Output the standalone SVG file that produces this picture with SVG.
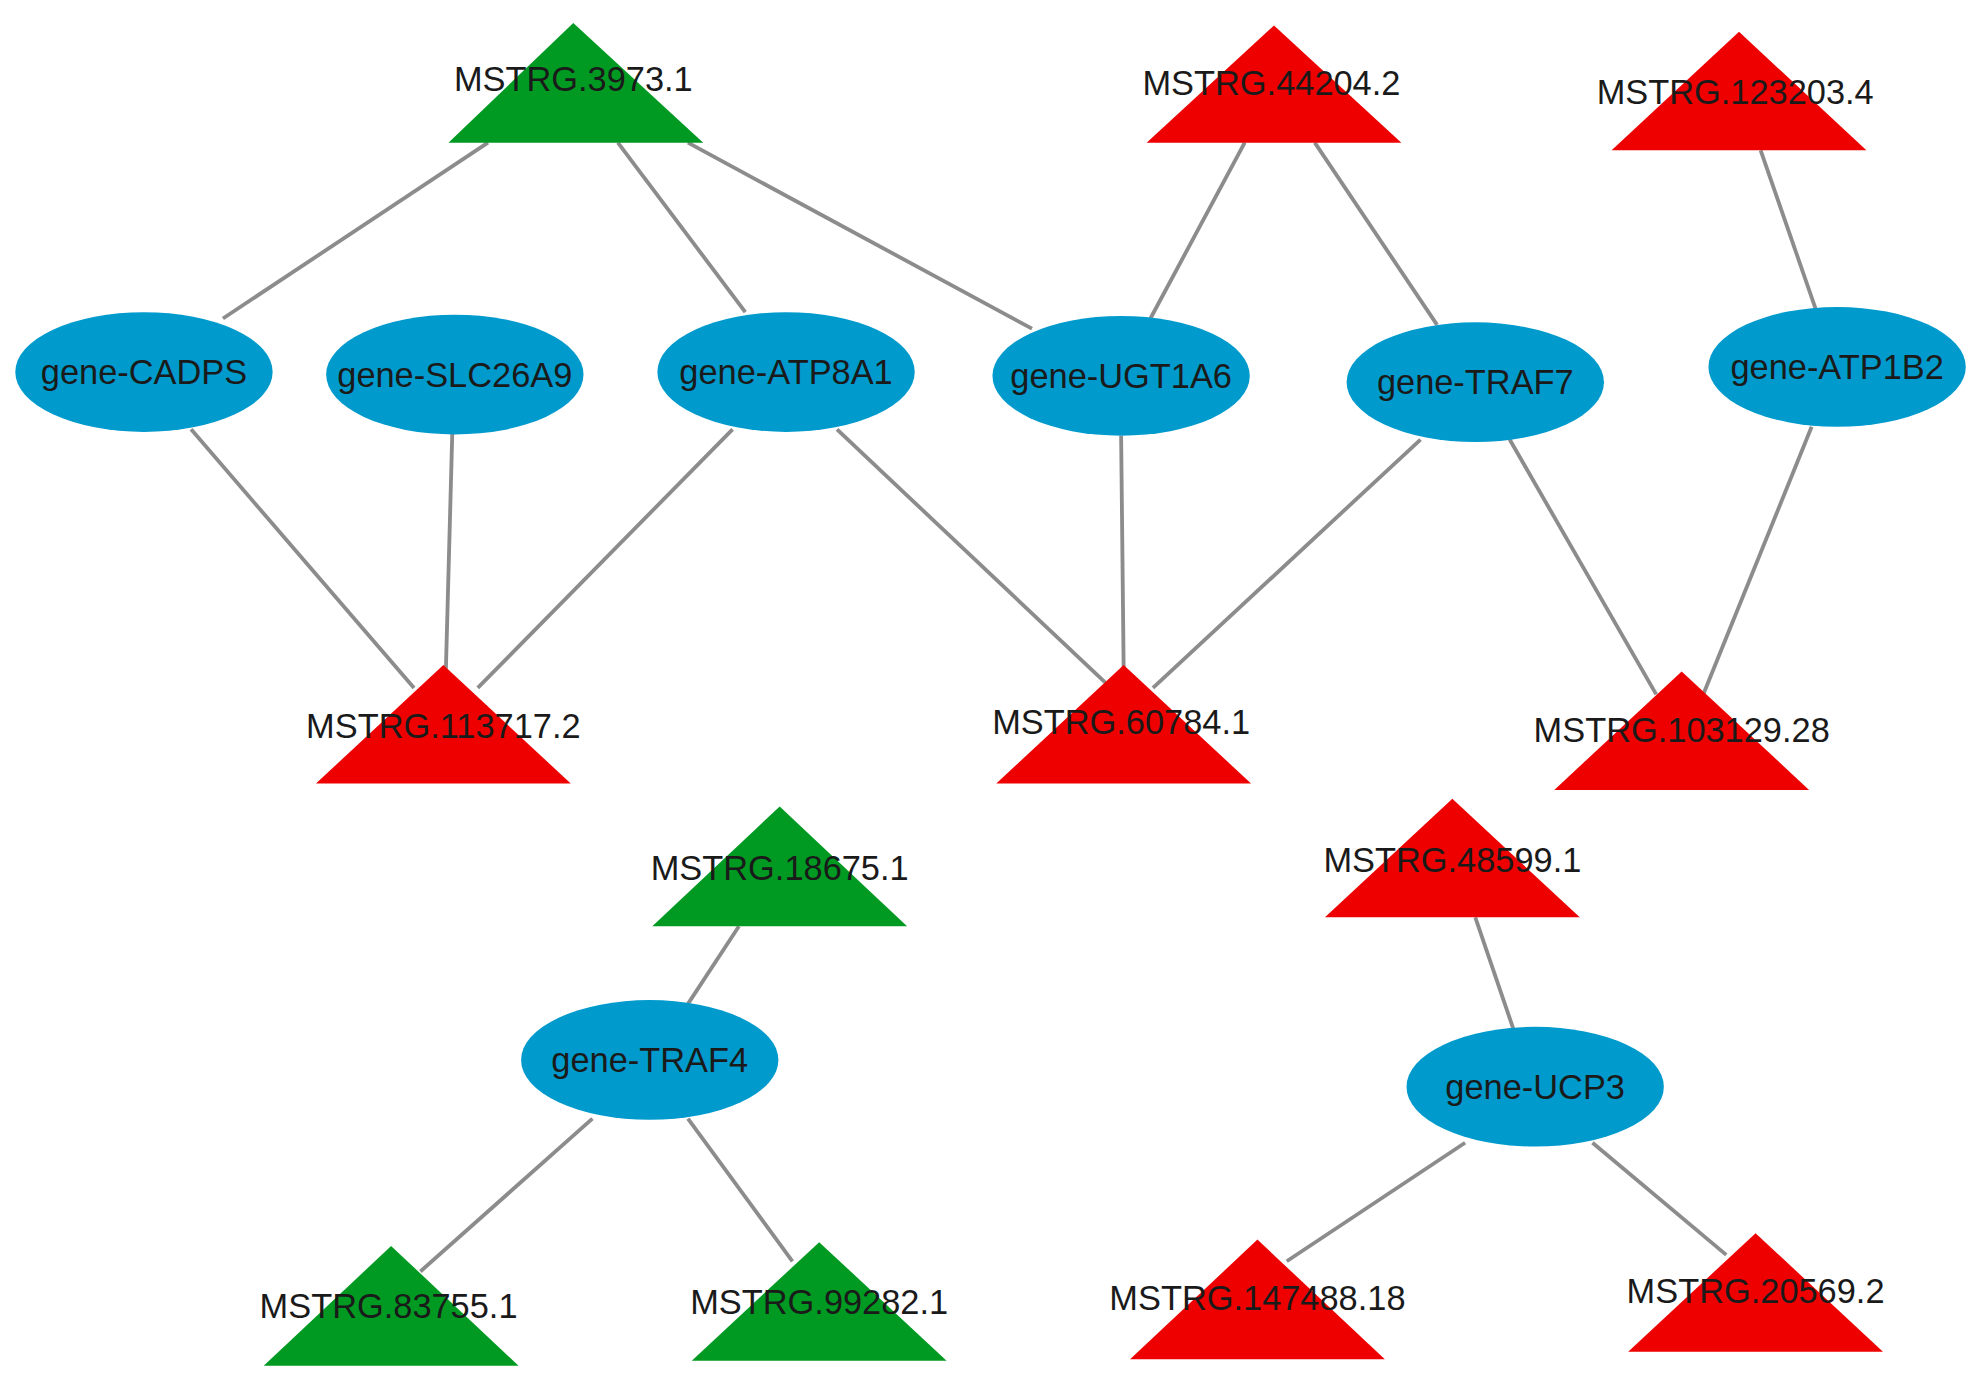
<svg xmlns="http://www.w3.org/2000/svg" width="1987" height="1377" viewBox="0 0 1987 1377">
<style>
.e line{stroke:#8c8c8c;stroke-width:3}
.g{fill:#009a22}.r{fill:#ee0000}.b{fill:#009acd}
text{font-family:"Liberation Sans",Arial,sans-serif;font-size:27px;fill:#1a1a1a;text-anchor:middle;dominant-baseline:central}
</style>
<rect width="1987" height="1377" fill="#fff"/>
<g transform="scale(1.274)">
<g id="edges" class="e">
<line x1="383" y1="112" x2="175" y2="250"/>
<line x1="485" y1="112" x2="585" y2="245"/>
<line x1="540" y1="112" x2="810" y2="258"/>
<line x1="977" y1="112" x2="903" y2="250"/>
<line x1="1032" y1="112" x2="1128" y2="255"/>
<line x1="1382" y1="118" x2="1425" y2="242"/>
<line x1="150" y1="337" x2="325" y2="540"/>
<line x1="355" y1="340" x2="350" y2="525"/>
<line x1="575" y1="337" x2="375" y2="540"/>
<line x1="657" y1="337" x2="872" y2="540"/>
<line x1="880" y1="342" x2="882" y2="525"/>
<line x1="1115" y1="345" x2="905" y2="540"/>
<line x1="1185" y1="345" x2="1300" y2="545"/>
<line x1="1422" y1="335" x2="1337" y2="545"/>
<line x1="580" y1="727" x2="540" y2="788"/>
<line x1="465" y1="878" x2="330" y2="998"/>
<line x1="540" y1="878" x2="622" y2="990"/>
<line x1="1158" y1="720" x2="1188" y2="808"/>
<line x1="1150" y1="897" x2="1010" y2="990"/>
<line x1="1250" y1="897" x2="1355" y2="985"/>
</g>
<g id="n3973"><polygon class="g" points="450,18 552,112 352,112"/><text x="450" y="62">MSTRG.3973.1</text></g>
<g id="n44204"><polygon class="r" points="1000,20 1100,112 900,112"/><text x="998" y="65">MSTRG.44204.2</text></g>
<g id="n123203"><polygon class="r" points="1365,25 1465,118 1265,118"/><text x="1362" y="72">MSTRG.123203.4</text></g>
<g id="n113717"><polygon class="r" points="348,522 448,615 248,615"/><text x="348" y="570">MSTRG.113717.2</text></g>
<g id="n60784"><polygon class="r" points="882,522 982,615 782,615"/><text x="880" y="567">MSTRG.60784.1</text></g>
<g id="n103129"><polygon class="r" points="1320,527 1420,620 1220,620"/><text x="1320" y="573">MSTRG.103129.28</text></g>
<g id="n18675"><polygon class="g" points="612,633 712,727 512,727"/><text x="612" y="681">MSTRG.18675.1</text></g>
<g id="n48599"><polygon class="r" points="1140,627 1240,720 1040,720"/><text x="1140" y="675">MSTRG.48599.1</text></g>
<g id="n83755"><polygon class="g" points="307,978 407,1072 207,1072"/><text x="305" y="1025">MSTRG.83755.1</text></g>
<g id="n99282"><polygon class="g" points="643,975 743,1068 543,1068"/><text x="643" y="1022">MSTRG.99282.1</text></g>
<g id="n147488"><polygon class="r" points="987,973 1087,1067 887,1067"/><text x="987" y="1019">MSTRG.147488.18</text></g>
<g id="n20569"><polygon class="r" points="1378,968 1478,1061 1278,1061"/><text x="1378" y="1013">MSTRG.20569.2</text></g>
<g id="CADPS"><ellipse class="b" cx="113" cy="292" rx="101" ry="47"/><text x="113" y="292">gene-CADPS</text></g>
<g id="SLC26A9"><ellipse class="b" cx="357" cy="294" rx="101" ry="47"/><text x="357" y="294">gene-SLC26A9</text></g>
<g id="ATP8A1"><ellipse class="b" cx="617" cy="292" rx="101" ry="47"/><text x="617" y="292">gene-ATP8A1</text></g>
<g id="UGT1A6"><ellipse class="b" cx="880" cy="295" rx="101" ry="47"/><text x="880" y="295">gene-UGT1A6</text></g>
<g id="TRAF7"><ellipse class="b" cx="1158" cy="300" rx="101" ry="47"/><text x="1158" y="300">gene-TRAF7</text></g>
<g id="ATP1B2"><ellipse class="b" cx="1442" cy="288" rx="101" ry="47"/><text x="1442" y="288">gene-ATP1B2</text></g>
<g id="TRAF4"><ellipse class="b" cx="510" cy="832" rx="101" ry="47"/><text x="510" y="832">gene-TRAF4</text></g>
<g id="UCP3"><ellipse class="b" cx="1205" cy="853" rx="101" ry="47"/><text x="1205" y="853">gene-UCP3</text></g>
</g>
</svg>
